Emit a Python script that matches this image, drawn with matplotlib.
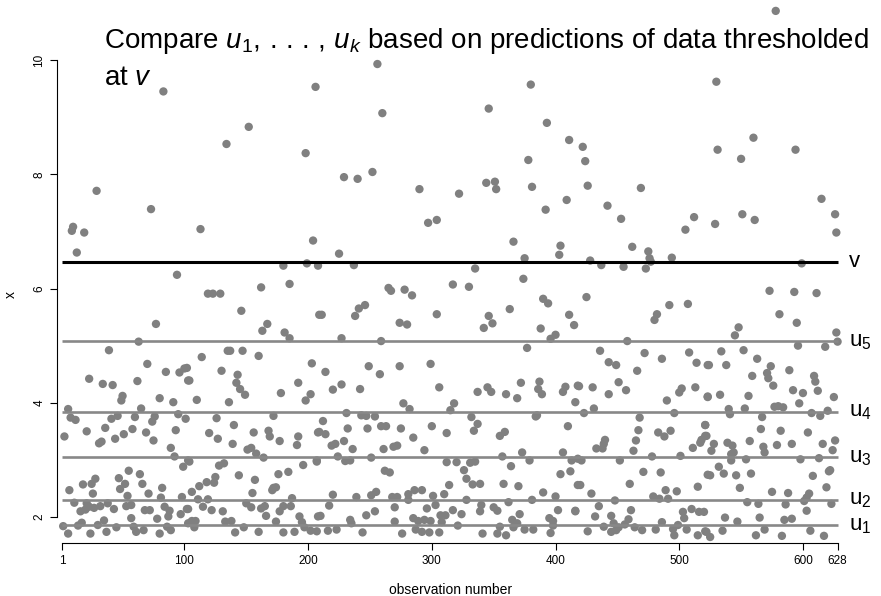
import numpy as np
import matplotlib
matplotlib.use("Agg")
import matplotlib.pyplot as plt

plt.rcParams['font.family'] = ['Liberation Sans', 'DejaVu Sans']
plt.rcParams['mathtext.fontset'] = 'custom'
plt.rcParams['mathtext.rm'] = 'Liberation Sans'
plt.rcParams['mathtext.it'] = 'Liberation Sans:italic'

# (observation number, value), grouped by x range
pts_high = [(83, 9.45), (29, 7.71), (73, 7.39), (10, 7.08), (9, 7.01), (19, 6.98), (13, 6.63), (94, 6.24),
            (206, 9.53), (152, 8.83), (134, 8.53), (198, 8.37), (113, 7.04), (204, 6.84), (180, 6.40),
            (199, 6.44), (208, 6.40), (185, 6.08), (162, 6.02), (119, 5.91), (123, 5.91), (129, 5.91),
            (256, 9.93), (260, 9.07), (229, 7.95), (240, 7.92), (252, 8.04), (290, 7.74), (297, 7.15),
            (304, 7.20), (225, 6.61), (237, 6.41), (265, 6.01), (267, 5.96), (278, 5.98), (284, 5.88),
            (380, 9.57), (346, 9.15), (393, 8.90), (411, 8.60), (378, 8.25), (344, 7.85), (351, 7.87),
            (352, 7.74), (322, 7.66), (381, 7.78), (409, 7.55), (392, 7.38), (366, 6.82), (404, 6.75),
            (403, 6.59), (375, 6.53), (335, 6.35), (317, 6.07), (330, 6.03), (374, 6.17), (390, 5.82),
            (422, 8.48), (424, 8.23), (426, 7.80), (469, 7.76), (442, 7.45), (453, 7.22), (512, 7.25),
            (505, 7.03), (462, 6.73), (475, 6.65), (476, 6.53), (477, 6.47), (428, 6.49), (437, 6.41),
            (455, 6.38), (473, 6.35), (494, 6.54), (425, 5.85),
            (578, 10.86), (530, 9.62), (560, 8.64), (531, 8.43), (550, 8.27), (594, 8.43), (615, 7.57),
            (626, 7.30), (627, 6.98), (529, 7.13), (551, 7.30), (561, 7.20), (599, 6.44), (573, 5.96),
            (593, 5.94), (611, 5.92)]

pts_1_105 = [(77, 5.38), (63, 5.07), (39, 4.92), (70, 4.68), (85, 4.54), (96, 4.53), (100, 4.60), (103, 4.39),
             (23, 4.42), (34, 4.33), (42, 4.31), (62, 4.38), (50, 4.12), (49, 4.04), (80, 4.08), (91, 4.01),
             (6, 3.89), (65, 3.90), (8, 3.74), (12, 3.70), (46, 3.77), (41, 3.72), (60, 3.75), (76, 3.76),
             (74, 3.67), (95, 3.80), (101, 3.72), (3, 3.41), (21, 3.50), (36, 3.56), (31, 3.29), (33, 3.32),
             (44, 3.37), (51, 3.45), (58, 3.54), (69, 3.48), (75, 3.34), (93, 3.52), (89, 3.21), (92, 3.06),
             (99, 2.88), (103, 2.99), (7, 2.47), (18, 2.57), (25, 2.58), (28, 2.67), (47, 2.68), (55, 2.81),
             (64, 2.75), (66, 2.58), (52, 2.58), (48, 2.49), (26, 2.41), (54, 2.37), (71, 2.41), (82, 2.51),
             (98, 2.35), (11, 2.25), (21, 2.24), (23, 2.18), (16, 2.10), (20, 2.13), (27, 2.16), (32, 2.19),
             (38, 2.24), (43, 2.14), (53, 2.19), (57, 2.21), (68, 2.12), (72, 2.12), (81, 2.34), (84, 2.18),
             (88, 2.11), (87, 2.01), (97, 2.05), (102, 2.14), (57, 1.98), (78, 1.97), (2, 1.84), (6, 1.71),
             (14, 1.85), (17, 1.90), (24, 1.71), (30, 1.86), (35, 1.94), (37, 1.74), (45, 1.82), (59, 1.83),
             (61, 1.74), (67, 1.77), (80, 1.71), (86, 1.83), (89, 1.77), (103, 1.89)]

pts_100_210 = [(146, 5.61), (167, 5.38), (163, 5.26), (181, 5.23), (185, 5.13), (209, 5.54), (135, 4.91),
               (137, 4.91), (147, 4.91), (160, 4.82), (114, 4.80), (203, 4.69), (102, 4.61), (130, 4.56),
               (143, 4.49), (104, 4.39), (142, 4.35), (145, 4.24), (149, 4.14), (192, 4.35), (178, 4.17),
               (202, 4.15), (198, 4.04), (110, 4.05), (136, 4.01), (126, 3.73), (172, 3.77), (140, 3.61),
               (120, 3.47), (127, 3.37), (156, 3.48), (168, 3.51), (169, 3.41), (177, 3.33), (192, 3.41),
               (191, 3.26), (139, 3.28), (151, 3.18), (154, 3.21), (158, 3.11), (164, 3.04), (208, 3.48),
               (104, 2.97), (128, 2.90), (132, 2.94), (196, 2.91), (207, 2.99), (125, 2.70), (124, 2.60),
               (144, 2.73), (176, 2.75), (184, 2.79), (118, 2.61), (112, 2.54), (106, 2.44), (157, 2.65),
               (172, 2.51), (174, 2.52), (171, 2.47), (155, 2.42), (187, 2.33), (111, 2.31), (119, 2.31),
               (103, 2.14), (115, 2.18), (122, 2.12), (131, 2.10), (150, 2.24), (154, 2.17), (162, 2.15),
               (165, 2.19), (180, 2.19), (177, 2.10), (186, 2.19), (166, 2.02), (193, 2.01), (195, 1.91),
               (208, 2.01), (106, 1.93), (109, 1.93), (108, 1.82), (133, 1.92), (138, 1.93), (174, 1.92),
               (141, 1.73), (148, 1.82), (160, 1.74), (180, 1.73), (189, 1.74), (197, 1.82), (202, 1.76)]

pts_205_312 = [(211, 5.54), (238, 5.52), (241, 5.65), (246, 5.71), (274, 5.40), (280, 5.37), (304, 5.55),
               (227, 5.13), (259, 5.08), (214, 4.54), (249, 4.64), (258, 4.50), (274, 4.64), (299, 4.68),
               (220, 4.23), (227, 4.32), (242, 4.24), (306, 4.27), (277, 3.99), (282, 3.89), (231, 3.82),
               (243, 3.78), (247, 3.77), (254, 3.76), (212, 3.68), (209, 3.49), (214, 3.45), (232, 3.55),
               (248, 3.55), (259, 3.59), (263, 3.59), (275, 3.55), (300, 3.59), (285, 3.39), (312, 3.47),
               (229, 3.33), (219, 3.25), (222, 3.28), (236, 3.19), (261, 3.19), (269, 3.23), (272, 3.25),
               (294, 3.17), (207, 2.97), (224, 3.06), (230, 2.98), (234, 2.99), (251, 3.04), (312, 2.96),
               (262, 2.81), (266, 2.78), (220, 2.39), (239, 2.35), (251, 2.38), (255, 2.44), (268, 2.35),
               (272, 2.35), (281, 2.40), (281, 2.30), (286, 2.47), (292, 2.47), (301, 2.37), (310, 2.40),
               (217, 2.20), (270, 2.17), (303, 2.21), (296, 2.15), (254, 2.10), (247, 2.03), (210, 2.02),
               (307, 2.03), (311, 2.03), (234, 1.95), (235, 1.89), (270, 1.92), (285, 1.98), (289, 1.93),
               (294, 1.95), (299, 1.93), (308, 1.91), (207, 1.75), (216, 1.76), (223, 1.78), (244, 1.73),
               (276, 1.71), (287, 1.78), (292, 1.74), (298, 1.73), (306, 1.73)]

pts_313_418 = [(394, 5.74), (363, 5.64), (346, 5.52), (349, 5.39), (342, 5.31), (411, 5.54), (415, 5.36),
               (388, 5.30), (400, 5.19), (396, 5.12), (377, 4.96), (337, 4.19), (345, 4.27), (348, 4.19),
               (360, 4.15), (372, 4.35), (369, 4.08), (387, 4.37), (386, 4.24), (389, 4.15), (408, 4.28),
               (406, 4.19), (418, 4.30), (416, 4.01), (318, 3.99), (315, 3.87), (332, 3.75), (384, 3.76),
               (385, 3.78), (337, 3.63), (334, 3.51), (359, 3.49), (355, 3.42), (410, 3.59), (373, 3.13),
               (406, 3.13), (357, 3.06), (320, 2.96), (331, 2.95), (335, 2.97), (379, 2.99), (413, 2.99),
               (364, 2.89), (326, 2.82), (328, 2.67), (404, 2.75), (412, 2.80), (314, 2.56), (333, 2.57),
               (339, 2.58), (358, 2.58), (370, 2.54), (418, 2.56), (390, 2.43), (328, 2.30), (362, 2.26),
               (381, 2.30), (400, 2.36), (340, 2.21), (339, 2.10), (350, 2.17), (353, 2.11), (317, 2.12),
               (324, 2.05), (371, 2.05), (402, 2.12), (416, 2.10), (365, 1.95), (395, 1.98), (398, 1.93),
               (398, 1.85), (321, 1.85), (355, 1.83), (366, 1.82), (375, 1.78), (382, 1.78), (369, 1.89),
               (341, 1.71), (353, 1.71), (360, 1.68), (396, 1.72)]

pts_416_523 = [(480, 5.45), (482, 5.55), (492, 5.71), (507, 5.73), (458, 5.08), (436, 4.91), (472, 4.87),
               (508, 4.88), (443, 4.71), (449, 4.66), (466, 4.56), (486, 4.77), (514, 4.70), (523, 4.66),
               (419, 4.29), (430, 4.27), (443, 4.15), (451, 4.36), (457, 4.22), (490, 4.04), (500, 4.18),
               (502, 4.25), (513, 4.27), (523, 4.10), (423, 3.82), (431, 3.90), (468, 3.74), (496, 3.82),
               (521, 3.61), (467, 3.52), (465, 3.34), (483, 3.48), (488, 3.41), (493, 3.51), (521, 3.42),
               (440, 3.35), (439, 3.28), (438, 3.20), (433, 3.20), (463, 3.16), (511, 3.21), (517, 3.30),
               (518, 3.35), (418, 3.02), (421, 2.99), (452, 2.99), (478, 3.06), (501, 3.07), (471, 2.79),
               (485, 2.78), (523, 2.74), (420, 2.56), (429, 2.41), (460, 2.58), (489, 2.47), (498, 2.45),
               (515, 2.53), (448, 2.29), (479, 2.36), (484, 2.32), (491, 2.32), (416, 2.11), (435, 2.19),
               (432, 2.01), (445, 2.02), (461, 2.12), (459, 1.96), (503, 2.09), (504, 1.98), (510, 2.14),
               (516, 2.09), (520, 2.09), (486, 1.91), (439, 1.83), (447, 1.89), (451, 1.82), (456, 1.87),
               (464, 1.82), (470, 1.77), (481, 1.78), (495, 1.79), (499, 1.86), (506, 1.78), (521, 1.75),
               (426, 1.75), (445, 1.74), (449, 1.77), (496, 1.68), (515, 1.68)]

pts_520_628 = [(581, 5.55), (595, 5.40), (548, 5.32), (545, 5.18), (627, 5.23), (628, 5.07), (596, 5.00),
               (618, 4.98), (534, 4.90), (552, 4.92), (563, 4.77), (524, 4.66), (538, 4.66), (574, 4.64),
               (589, 4.57), (559, 4.47), (571, 4.52), (572, 4.43), (609, 4.47), (610, 4.37), (612, 4.21),
               (576, 4.30), (592, 4.22), (600, 4.17), (523, 4.11), (533, 4.14), (556, 4.12), (625, 4.10),
               (597, 3.99), (540, 3.89), (541, 3.80), (553, 3.90), (577, 3.93), (580, 3.94), (584, 3.92),
               (567, 3.75), (607, 3.82), (614, 3.77), (620, 3.86), (521, 3.61), (522, 3.42), (566, 3.54),
               (582, 3.51), (604, 3.48), (528, 3.28), (526, 3.16), (539, 3.30), (543, 3.25), (544, 3.13),
               (542, 3.10), (557, 3.33), (568, 3.23), (569, 3.13), (579, 3.26), (591, 3.28), (616, 3.28),
               (624, 3.17), (626, 3.34), (542, 2.99), (554, 3.01), (598, 3.01), (613, 3.03), (532, 2.88),
               (525, 2.73), (536, 2.76), (546, 2.73), (558, 2.76), (608, 2.72), (621, 2.80), (622, 2.82),
               (549, 2.51), (619, 2.52), (575, 2.44), (588, 2.42), (605, 2.41), (603, 2.34), (555, 2.26),
               (564, 2.23), (586, 2.22), (601, 2.28), (623, 2.23), (603, 2.11), (537, 1.99), (547, 1.92),
               (565, 1.99), (585, 1.95), (591, 1.97), (522, 1.74), (525, 1.65), (535, 1.76), (562, 1.68),
               (569, 1.78), (583, 1.67), (606, 1.76), (617, 1.67)]

u_levels = [1.86, 2.30, 3.05, 3.84, 5.08]
u_names = ['1', '2', '3', '4', '5']
v_level = 6.47
n_obs = 628
x_ticks = [1, 100, 200, 300, 400, 500, 600, 628]
y_ticks = [2, 4, 6, 8, 10]

pts = np.array(pts_high + pts_1_105 + pts_100_210 + pts_205_312 + pts_313_418 + pts_416_523 + pts_520_628)

fig = plt.figure(figsize=(8.81, 5.96), dpi=100)
ax = fig.add_axes([57 / 881, 53 / 596, 788 / 881, 498 / 596])
ax.set_xlim(-3.0, 634.0)
ax.set_ylim(1.545, 10.263)

ax.scatter(pts[:, 0], pts[:, 1], s=36, color='#808080', edgecolors='none', clip_on=False, zorder=2)

for lev, nm in zip(u_levels, u_names):
    ax.hlines(lev, 1, n_obs, color='#888888', lw=1.9, zorder=3)
    ax.text(n_obs + 9, lev, r'u$_{%s}$' % nm, fontsize=16, va='center', ha='left')
ax.hlines(v_level, 1, n_obs, color='black', lw=2.2, zorder=3)
ax.text(n_obs + 9, v_level, 'v', fontsize=16, va='center', ha='left')

for s in ['top', 'right']:
    ax.spines[s].set_visible(False)
ax.spines['left'].set_bounds(2, 10)
ax.spines['bottom'].set_bounds(1, n_obs)
ax.set_xticks(x_ticks)
ax.set_yticks(y_ticks)
ax.tick_params(direction='out', length=5, labelsize=8.5, width=0.8)
plt.setp(ax.get_yticklabels(), rotation=90, va='center')
ax.set_xlabel('observation number', fontsize=10, labelpad=12)
ax.set_ylabel('x', fontsize=10, labelpad=11)

fig.text(104 / 881, 1 - 48 / 596,
         r'Compare $u_1,\,.\,.\,.\,,\,u_k$ based on predictions of data thresholded',
         fontsize=20, ha='left', va='baseline')
fig.text(104 / 881, 1 - 85 / 596, r'at $v$', fontsize=20, ha='left', va='baseline')

fig.savefig('out.png', dpi=100)
